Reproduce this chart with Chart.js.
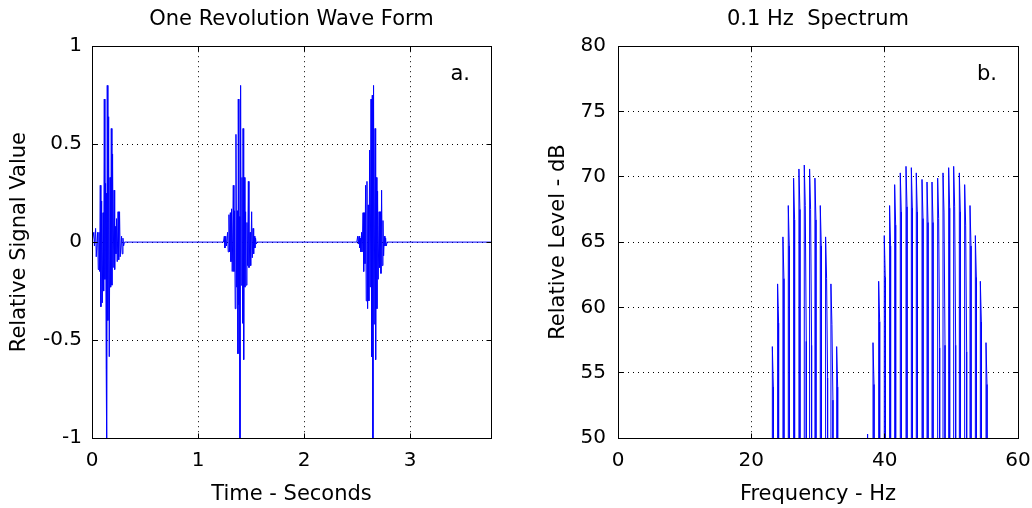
<!DOCTYPE html>
<html>
<head>
<meta charset="utf-8">
<script src="https://cdn.jsdelivr.net/npm/chart.js@4.4.1/dist/chart.umd.min.js"></script>
<style>
  html, body { margin: 0; padding: 0; background: #fff; }
  #wrap { position: relative; width: 1032px; height: 508px; overflow: hidden; }
  .panel { position: absolute; top: 0; width: 516px; height: 508px; }
</style>
</head>
<body>
<div id="wrap">
  <div class="panel" style="left:0"><canvas id="waveChart" width="516" height="508"></canvas></div>
  <div class="panel" style="left:516px"><canvas id="specChart" width="516" height="508"></canvas></div>
</div>
<script>
// wave form: per-column peak / trough (seconds, relative value)
const burst1Time = [0.017, 0.034, 0.053, 0.066, 0.078, 0.091, 0.104, 0.116, 0.128, 0.135, 0.144, 0.157, 0.170, 0.182, 0.194, 0.208, 0.220, 0.232, 0.246, 0.260, 0.279, 0.292];
const burst1Max  = [0.05, 0.07, 0.05, 0.05, 0.29, 0.21, 0.15, 0.73, 0.30, 0.25, 0.80, 0.64, 0.33, 0.58, 0.45, 0.265, 0.08, 0.12, 0.155, 0.155, 0.03, 0.02];
const burst1Min  = [-0.02, -0.075, -0.14, -0.15, -0.33, -0.31, -0.25, -0.19, -0.65, -1.0, -0.40, -0.585, -0.23, -0.22, -0.13, -0.14, -0.06, -0.10, -0.09, -0.075, -0.06, -0.02];

const burst2Time = [1.248, 1.262, 1.279, 1.292, 1.305, 1.317, 1.333, 1.345, 1.358, 1.371, 1.380, 1.390, 1.402, 1.415, 1.425, 1.437, 1.449, 1.462, 1.475, 1.491, 1.506, 1.519, 1.531, 1.543];
const burst2Max  = [0.03, 0.03, 0.05, 0.14, 0.15, 0.17, 0.29, 0.16, 0.55, 0.16, 0.73, 0.13, 0.80, 0.33, 0.58, 0.33, 0.155, 0.10, 0.31, 0.05, 0.155, 0.07, 0.03, 0.02];
const burst2Min  = [-0.03, -0.02, -0.05, -0.05, -0.10, -0.15, -0.15, -0.34, -0.23, -0.57, -0.32, -1.0, -0.22, -0.415, -0.60, -0.23, -0.22, -0.12, -0.13, -0.12, -0.08, -0.06, -0.03, -0.01];

const burst3Time = [2.506, 2.519, 2.531, 2.543, 2.557, 2.569, 2.581, 2.594, 2.606, 2.619, 2.632, 2.644, 2.656, 2.670, 2.682, 2.694, 2.708, 2.720, 2.732, 2.745, 2.758, 2.770];
const burst3Max  = [0.03, 0.03, 0.02, 0.05, 0.15, 0.15, 0.29, 0.31, 0.19, 0.47, 0.73, 0.75, 0.80, 0.58, 0.33, 0.26, 0.155, 0.155, 0.265, 0.11, 0.03, 0.02];
const burst3Min  = [-0.01, -0.03, -0.05, -0.05, -0.15, -0.11, -0.30, -0.34, -0.30, -0.23, -0.585, -1.0, -0.42, -0.60, -0.34, -0.19, -0.13, -0.16, -0.12, -0.07, -0.02, -0.02];

const waveEnd = 3.764;   // one revolution, seconds
const quietLevel = 0;

const timeTicks   = [0, 1, 2, 3];
const timeLabels  = ['0', '1', '2', '3'];
const levelTicks  = [-1, -0.5, 0, 0.5, 1];
const levelLabels = ['-1', '-0.5', '0', '0.5', '1'];

// spectrum: harmonic lines (Hz) with the level of the main bin and its neighbours (dB)
const specFreq  = [23.15, 23.94, 24.74, 25.54, 26.34, 27.14, 27.94, 28.74, 29.54, 30.34, 31.14, 31.94, 32.80,
                   37.44,
                   38.25, 39.10, 39.94, 40.74, 41.50, 42.34, 43.20, 44.00, 44.74, 45.60, 46.35, 47.10, 47.95, 48.75, 49.60, 50.35, 51.20, 52.00, 52.80, 53.60, 54.35, 55.20];
const specPeak  = [57.0, 61.8, 65.4, 67.8, 69.9, 70.6, 70.9, 70.6, 69.9, 67.8, 65.4, 61.8, 57.0,
                   50.3,
                   57.3, 62.0, 65.5, 67.8, 69.4, 70.3, 70.8, 70.7, 70.3, 69.8, 69.6, 69.6, 69.9, 70.3, 70.7, 70.8, 70.3, 69.4, 67.8, 65.5, 62.0, 57.3];
const specSide  = [53.9, 58.8, 62.2, 64.7, 66.7, 67.5, 67.8, 67.5, 66.7, 64.7, 62.2, 58.7, 53.9,
                   null,
                   54.1, 58.9, 62.3, 64.7, 66.3, 67.3, 67.7, 67.6, 67.3, 66.8, 66.5, 66.5, 66.8, 67.3, 67.6, 67.7, 67.3, 66.3, 64.7, 62.3, 58.9, 54.1];
const specThird = [null, null, null, null, null, null, 57.4, 57.1, null, null, 54.6, 52.9, null,
                   null,
                   null, null, null, null, null, null, null, null, null, null, null, null, 56.9, 57.1, null, 57.1, null, 56.6, null, null, null, null];
const specFloor = 40;    // bins between harmonics sit below the 50 dB axis
const binStep = 0.15;    // Hz between neighbouring bins as drawn

const freqTicks   = [0, 20, 40, 60];
const freqLabels  = ['0', '20', '40', '60'];
const dbTicks     = [50, 55, 60, 65, 70, 75, 80];
const dbLabels    = ['50', '55', '60', '65', '70', '75', '80'];

// shared styles
const FONT = 'DejaVu Sans';
const tickFont = { family: FONT, size: 20 };
const labelFont = { family: FONT, size: 21 };
const lineBlue = '#0000ff';

// build the wave form points
function burstPoints(times, maxs, mins) {
    const pts = [];
    times.forEach((t, i) => {
        pts.push({ x: t, y: maxs[i] });
        pts.push({ x: t + 0.006, y: mins[i] });
    });
    return pts;
}

function wavePoints() {
    const bursts = [
        [burst1Time, burst1Max, burst1Min],
        [burst2Time, burst2Max, burst2Min],
        [burst3Time, burst3Max, burst3Min]
    ];
    const pts = [{ x: 0, y: quietLevel }];
    bursts.forEach(([t, hi, lo]) => {
        pts.push({ x: t[0] - 0.008, y: quietLevel });
        pts.push(...burstPoints(t, hi, lo));
        pts.push({ x: t[t.length - 1] + 0.014, y: quietLevel });
    });
    pts.push({ x: waveEnd, y: quietLevel });
    return pts;
}

// build the spectrum points, vertical strokes per harmonic
function spectrumPoints() {
    const pts = [];
    specFreq.forEach((f, i) => {
        const bins = [specPeak[i], specSide[i], specThird[i]].filter(v => v !== null);
        pts.push({ x: f, y: specFloor });
        bins.forEach((v, k) => pts.push({ x: f + k * binStep, y: v }));
        pts.push({ x: f + (bins.length - 1) * binStep, y: specFloor });
    });
    return pts;
}

// box, inward tick marks and panel letter, matlab style
function alignPx(p) {
    return Math.round(p - 0.5) + 0.5;
}

const matlabAxes = {
    id: 'matlabAxes',
    afterDraw(chart, args, opts) {
        const { ctx, chartArea: a, scales } = chart;
        const L = alignPx(a.left), R = alignPx(a.right), T = alignPx(a.top), B = alignPx(a.bottom);
        const len = 5;
        ctx.save();
        ctx.strokeStyle = '#000';
        ctx.lineWidth = 1;
        ctx.setLineDash([]);
        ctx.strokeRect(L, T, R - L, B - T);
        ctx.beginPath();
        scales.x.ticks.forEach(t => {
            const px = alignPx(scales.x.getPixelForValue(t.value));
            ctx.moveTo(px, B); ctx.lineTo(px, B - len);
            ctx.moveTo(px, T); ctx.lineTo(px, T + len);
        });
        scales.y.ticks.forEach(t => {
            const py = alignPx(scales.y.getPixelForValue(t.value));
            ctx.moveTo(L, py); ctx.lineTo(L + len, py);
            ctx.moveTo(R, py); ctx.lineTo(R - len, py);
        });
        ctx.stroke();
        ctx.fillStyle = '#000';
        ctx.font = '21px "' + FONT + '"';
        ctx.textAlign = 'right';
        ctx.textBaseline = 'alphabetic';
        ctx.fillText(opts.letter, a.right - 21, a.top + 34);
        ctx.restore();
    }
};

function axisOptions(cfg) {
    return {
        type: 'linear',
        min: cfg.min,
        max: cfg.max,
        afterBuildTicks: s => { s.ticks = cfg.ticks.map(v => ({ value: v })); },
        afterFit: cfg.fit,
        grid: { color: '#000', lineWidth: 1, drawTicks: false },
        border: { display: false, dash: [1, 4] },
        ticks: {
            color: '#000',
            font: tickFont,
            padding: cfg.pad,
            maxRotation: 0,
            callback: (v, i) => cfg.labels[i]
        },
        title: {
            display: true,
            text: cfg.title,
            color: '#000',
            font: labelFont,
            padding: cfg.titlePad
        }
    };
}

// fixed-size axes so the plot box lands where the original has it
function fixX(s) {
    s.height = 70;
    s.paddingLeft = 0;
    s.paddingRight = 0;
}

function makeChart(id, points, cfg) {
    return new Chart(document.getElementById(id), {
        type: 'line',
        data: {
            datasets: [{
                data: points,
                borderColor: lineBlue,
                borderWidth: 1,
                pointRadius: 0,
                tension: 0,
                fill: false
            }]
        },
        options: {
            responsive: false,
            animation: false,
            layout: { padding: { left: 0, right: cfg.rightPad, top: 0, bottom: 0 } },
            plugins: {
                legend: { display: false },
                tooltip: { enabled: false },
                title: {
                    display: true,
                    text: cfg.title,
                    color: '#000',
                    font: { family: FONT, size: 21, weight: 'normal' },
                    fullSize: false,
                    padding: { top: 7, bottom: 14 }
                },
                matlabAxes: { letter: cfg.letter }
            },
            scales: {
                x: axisOptions(cfg.x),
                y: axisOptions(cfg.y)
            }
        },
        plugins: [matlabAxes]
    });
}

makeChart('waveChart', wavePoints(), {
    title: 'One Revolution Wave Form',
    letter: 'a.',
    rightPad: 25,
    x: {
        min: 0, max: waveEnd, ticks: timeTicks, labels: timeLabels, pad: 11,
        title: 'Time - Seconds', titlePad: { top: 0, bottom: 1 },
        fit: fixX
    },
    y: {
        min: -1, max: 1, ticks: levelTicks, labels: levelLabels, pad: 10,
        title: 'Relative Signal Value', titlePad: { top: 7, bottom: 0 },
        fit: s => { s.width = 92; }
    }
});

makeChart('specChart', spectrumPoints(), {
    title: '0.1 Hz  Spectrum',
    letter: 'b.',
    rightPad: 14,
    x: {
        min: 0, max: 60, ticks: freqTicks, labels: freqLabels, pad: 11,
        title: 'Frequency - Hz', titlePad: { top: 0, bottom: 1 },
        fit: fixX
    },
    y: {
        min: 50, max: 80, ticks: dbTicks, labels: dbLabels, pad: 12,
        title: 'Relative Level - dB', titlePad: { top: 30, bottom: 0 },
        fit: s => { s.width = 102; }
    }
});
</script>
</body>
</html>
